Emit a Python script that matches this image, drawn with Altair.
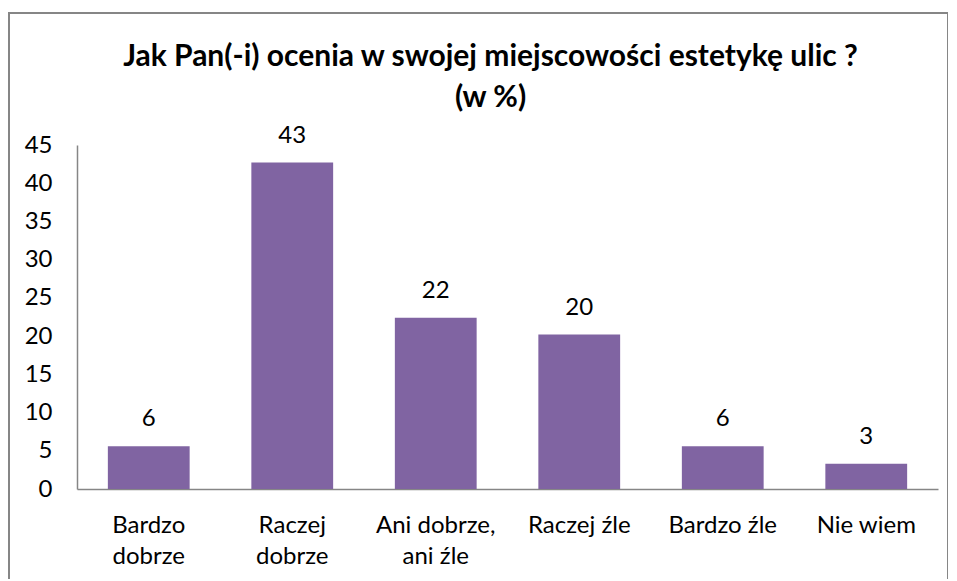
import altair as alt
import pandas as pd

categories = ["Bardzo dobrze", "Raczej dobrze", "Ani dobrze, ani źle", "Raczej źle", "Bardzo źle", "Nie wiem"]
label_lines = [["Bardzo", "dobrze"], ["Raczej", "dobrze"], ["Ani dobrze,", "ani źle"], ["Raczej źle"], ["Bardzo źle"], ["Nie wiem"]]
values = [5.6, 42.7, 22.4, 20.2, 5.6, 3.3]
y_ticks = [0, 5, 10, 15, 20, 25, 30, 35, 40, 45]
title_lines = ["Jak Pan(-i) ocenia w swojej miejscowości estetykę ulic ?", "(w %)"]

df = pd.DataFrame({"kat": categories, "val": values})

FONT = "Lato"
PURPLE = "#8064A2"
GRAY = "#868686"
FS = 24

expr_parts = []
for c, lines in zip(categories, label_lines):
    arr = "[" + ",".join("'" + s + "'" for s in lines) + "]"
    expr_parts.append(f"datum.label == '{c}' ? {arr}")
label_expr = " : ".join(expr_parts) + " : datum.label"

x = alt.X("kat:N", sort=categories, title=None,
          scale=alt.Scale(paddingInner=0.43, paddingOuter=0.215),
          axis=alt.Axis(labelAngle=0, labelExpr=label_expr, ticks=False, domainColor=GRAY,
                        domainWidth=1.5, labelFont=FONT, labelFontSize=FS, labelColor="black",
                        labelPadding=24, labelLineHeight=31, labelBaseline="top"))
y = alt.Y("val:Q", title=None,
          scale=alt.Scale(domain=[0, 45], nice=False),
          axis=alt.Axis(values=y_ticks, ticks=False, grid=False, domainColor=GRAY, domainWidth=1.5,
                        labelFont=FONT, labelFontSize=FS, labelColor="black", labelPadding=25))

bars = alt.Chart(df).mark_bar(color=PURPLE).encode(x=x, y=y)
labels = alt.Chart(df).mark_text(font=FONT, fontSize=FS, color="black", baseline="bottom", dy=-15).encode(
    x=x, y=y, text=alt.Text("val:Q", format=".0f"))

frame = alt.Chart(df).mark_rect(filled=False, stroke=GRAY, strokeWidth=1.5).encode(
    x=alt.value(-68), x2=alt.value(871), y=alt.value(-132), y2=alt.value(460))

chart = alt.layer(frame, bars, labels).properties(
    width=861, height=344,
    title=alt.TitleParams(title_lines, font=FONT, fontSize=30, fontWeight="bold", color="black",
                          anchor="middle", dx=-17, offset=-101, lineHeight=41),
    autosize=alt.AutoSizeParams(type="none"),
    padding={"left": 69, "top": 137, "right": 10, "bottom": 90},
    background="white",
).configure_view(stroke=None)

chart.save("out.html", embed_options={"renderer": "svg", "actions": False})
